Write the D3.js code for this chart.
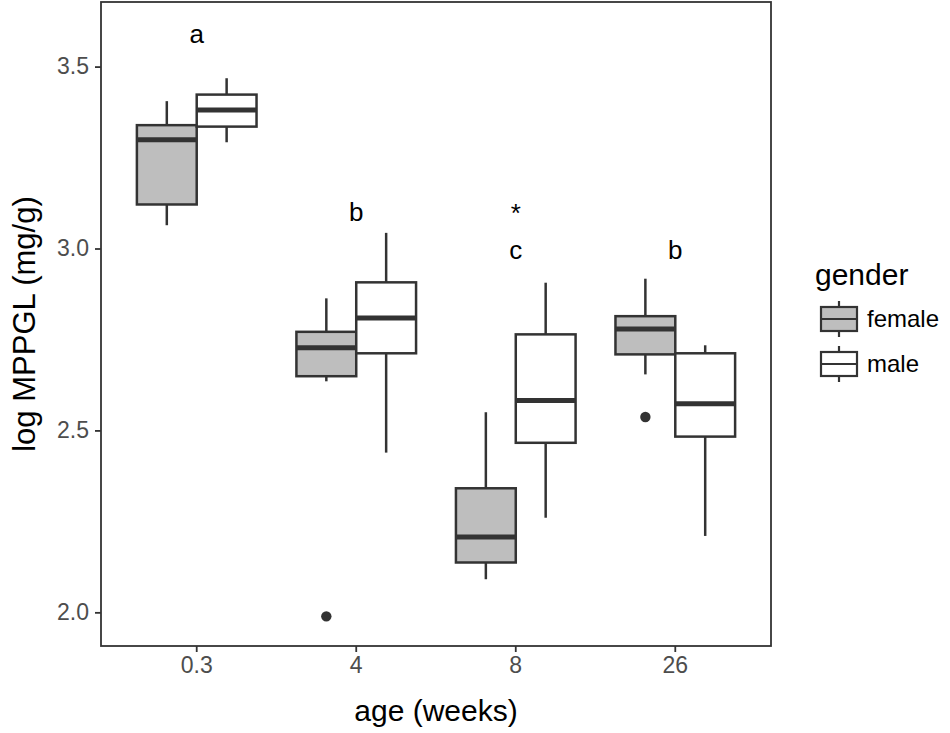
<!DOCTYPE html>
<html>
<head>
<meta charset="utf-8">
<script src="https://cdnjs.cloudflare.com/ajax/libs/d3/7.8.5/d3.min.js"></script>
<style>
  body { margin: 0; background: #fff; }
  text { font-family: Arial, "Liberation Sans", sans-serif; }
</style>
</head>
<body>
<svg id="canvas"></svg>
<script>
//--chart data
let ages = ["0.3", "4", "8", "26"];
let genders = ["female", "male"];

// five number summaries: [low whisker, Q1, median, Q3, high whisker]
let femaleStats = [
  [3.064, 3.121, 3.299, 3.339, 3.405],
  [2.635, 2.649, 2.727, 2.771, 2.863],
  [2.091, 2.137, 2.207, 2.341, 2.550],
  [2.654, 2.709, 2.779, 2.814, 2.917]
];
let maleStats = [
  [3.292, 3.335, 3.381, 3.423, 3.468],
  [2.439, 2.712, 2.809, 2.907, 3.043],
  [2.260, 2.466, 2.582, 2.764, 2.906],
  [2.210, 2.483, 2.573, 2.712, 2.734]
];

// outliers: [age, gender, value]
let outliers = [
  ["4", "female", 1.989],
  ["26", "female", 2.537]
];

// letters above each age group
let letterLabels = ["a", "b", "c", "b"];
let letterY = [3.59, 3.10, 2.997, 2.997];
let starLabels = ["*"];
let starAge = ["8"];
let starY = [3.12];

let yTicks = [2.0, 2.5, 3.0, 3.5];
//--

//--canvas
let width = 950;
let height = 733;
let margin = {left: 101, right: 179, top: 2, bottom: 87};

let canvas = d3.select("#canvas")
canvas.attr("width", width)
canvas.attr("height", height)

let plotLeft = margin.left;
let plotRight = width - margin.right;
let plotTop = margin.top;
let plotBottom = height - margin.bottom;
//--

//--scales
let x = d3.scaleBand()
          .domain(ages)
          .range([plotLeft, plotRight])
          .paddingInner(0.25)
          .paddingOuter(0.225)

let xg = d3.scaleBand()
           .domain(genders)
           .range([0, x.bandwidth()])

let y = d3.scaleLinear()
          .domain([1.9075, 3.6775])
          .range([plotBottom, plotTop])

let fill = d3.scaleOrdinal()
             .domain(genders)
             .range(["#bebebe", "#ffffff"])

let dark = "#333333";
//--

//--build rows for the boxes
let boxes = [];
ages.forEach((a, i) => {
    boxes.push({age: a, gender: "female", s: femaleStats[i]});
    boxes.push({age: a, gender: "male", s: maleStats[i]});
});
//--

let drawBoxplot = () => {

    let g = canvas.append("g")

    let box = g.selectAll("g.box")
               .data(boxes)
               .enter()
               .append("g")
               .attr("class", "box")
               .attr("transform", d => "translate(" + (x(d.age) + xg(d.gender)) + ",0)")

    let bw = xg.bandwidth();

    // whiskers
    box.append("line")
       .attr("x1", bw / 2).attr("x2", bw / 2)
       .attr("y1", d => y(d.s[3])).attr("y2", d => y(d.s[4]))
       .attr("stroke", dark).attr("stroke-width", 2.5)
    box.append("line")
       .attr("x1", bw / 2).attr("x2", bw / 2)
       .attr("y1", d => y(d.s[1])).attr("y2", d => y(d.s[0]))
       .attr("stroke", dark).attr("stroke-width", 2.5)

    box.append("rect")
       .attr("x", 0)
       .attr("width", bw)
       .attr("y", d => y(d.s[3]))
       .attr("height", d => y(d.s[1]) - y(d.s[3]))
       .attr("fill", d => fill(d.gender))
       .attr("stroke", dark)
       .attr("stroke-width", 2.5)

    box.append("line")
       .attr("x1", 0).attr("x2", bw)
       .attr("y1", d => y(d.s[2])).attr("y2", d => y(d.s[2]))
       .attr("stroke", dark).attr("stroke-width", 5)

    g.selectAll("circle")
     .data(outliers)
     .enter()
     .append("circle")
     .attr("cx", d => x(d[0]) + xg(d[1]) + bw / 2)
     .attr("cy", d => y(d[2]))
     .attr("r", 5.2)
     .attr("fill", dark)

    // letters
    g.selectAll("text.letter")
     .data(letterLabels)
     .enter()
     .append("text")
     .attr("class", "letter")
     .attr("x", (d, i) => x(ages[i]) + x.bandwidth() / 2)
     .attr("y", (d, i) => y(letterY[i]))
     .attr("dy", "0.35em")
     .attr("text-anchor", "middle")
     .attr("font-size", 26)
     .text(d => d)

    g.selectAll("text.star")
     .data(starLabels)
     .enter()
     .append("text")
     .attr("class", "star")
     .attr("x", (d, i) => x(starAge[i]) + x.bandwidth() / 2)
     .attr("y", (d, i) => y(starY[i]))
     .attr("dy", "0.65em")
     .attr("text-anchor", "middle")
     .attr("font-size", 26)
     .text(d => d)

    // panel border
    canvas.append("rect")
          .attr("x", plotLeft).attr("y", plotTop)
          .attr("width", plotRight - plotLeft)
          .attr("height", plotBottom - plotTop)
          .attr("fill", "none")
          .attr("stroke", dark)
          .attr("stroke-width", 1.8)

    // axes
    let xAxis = canvas.append("g")
                      .attr("transform", "translate(0," + plotBottom + ")")
                      .call(d3.axisBottom(x).tickSize(6).tickPadding(5))
    let yAxis = canvas.append("g")
                      .attr("transform", "translate(" + plotLeft + ",0)")
                      .call(d3.axisLeft(y).tickValues(yTicks).tickFormat(d3.format(".1f")).tickSize(6).tickPadding(6))

    ;[xAxis, yAxis].forEach(a => {
        a.select(".domain").remove()
        a.selectAll(".tick line").attr("stroke", dark).attr("stroke-width", 1.8)
        a.selectAll(".tick text")
         .attr("fill", "#4d4d4d")
         .attr("font-size", 23)
         .style("font-family", "Arial, 'Liberation Sans', sans-serif")
    })

    canvas.append("text")
          .attr("x", (plotLeft + plotRight) / 2)
          .attr("y", 721)
          .attr("text-anchor", "middle")
          .attr("font-size", 30)
          .text("age (weeks)")

    canvas.append("text")
          .attr("transform", "translate(35," + ((plotTop + plotBottom) / 2) + ") rotate(-90)")
          .attr("text-anchor", "middle")
          .attr("font-size", 31)
          .text("log MPPGL (mg/g)")

    // legend
    let legend = canvas.append("g")
                       .attr("transform", "translate(815,0)")

    legend.append("text")
          .attr("x", 0)
          .attr("y", 285)
          .attr("font-size", 30)
          .text("gender")

    let keyY = [319, 364];
    let item = legend.selectAll("g.key")
                     .data(genders)
                     .enter()
                     .append("g")
                     .attr("class", "key")
                     .attr("transform", (d, i) => "translate(0," + keyY[i] + ")")

    item.append("line")
        .attr("x1", 24).attr("x2", 24).attr("y1", -18).attr("y2", 18)
        .attr("stroke", dark).attr("stroke-width", 2.2)
    item.append("rect")
        .attr("x", 6).attr("y", -12).attr("width", 36).attr("height", 24)
        .attr("fill", d => fill(d))
        .attr("stroke", dark).attr("stroke-width", 2.2)
    item.append("line")
        .attr("x1", 6).attr("x2", 42).attr("y1", 0).attr("y2", 0)
        .attr("stroke", dark).attr("stroke-width", 2.2)
    item.append("text")
        .attr("x", 52)
        .attr("y", 0)
        .attr("dy", "0.35em")
        .attr("font-size", 24)
        .text(d => d)
}

drawBoxplot()
</script>
</body>
</html>
